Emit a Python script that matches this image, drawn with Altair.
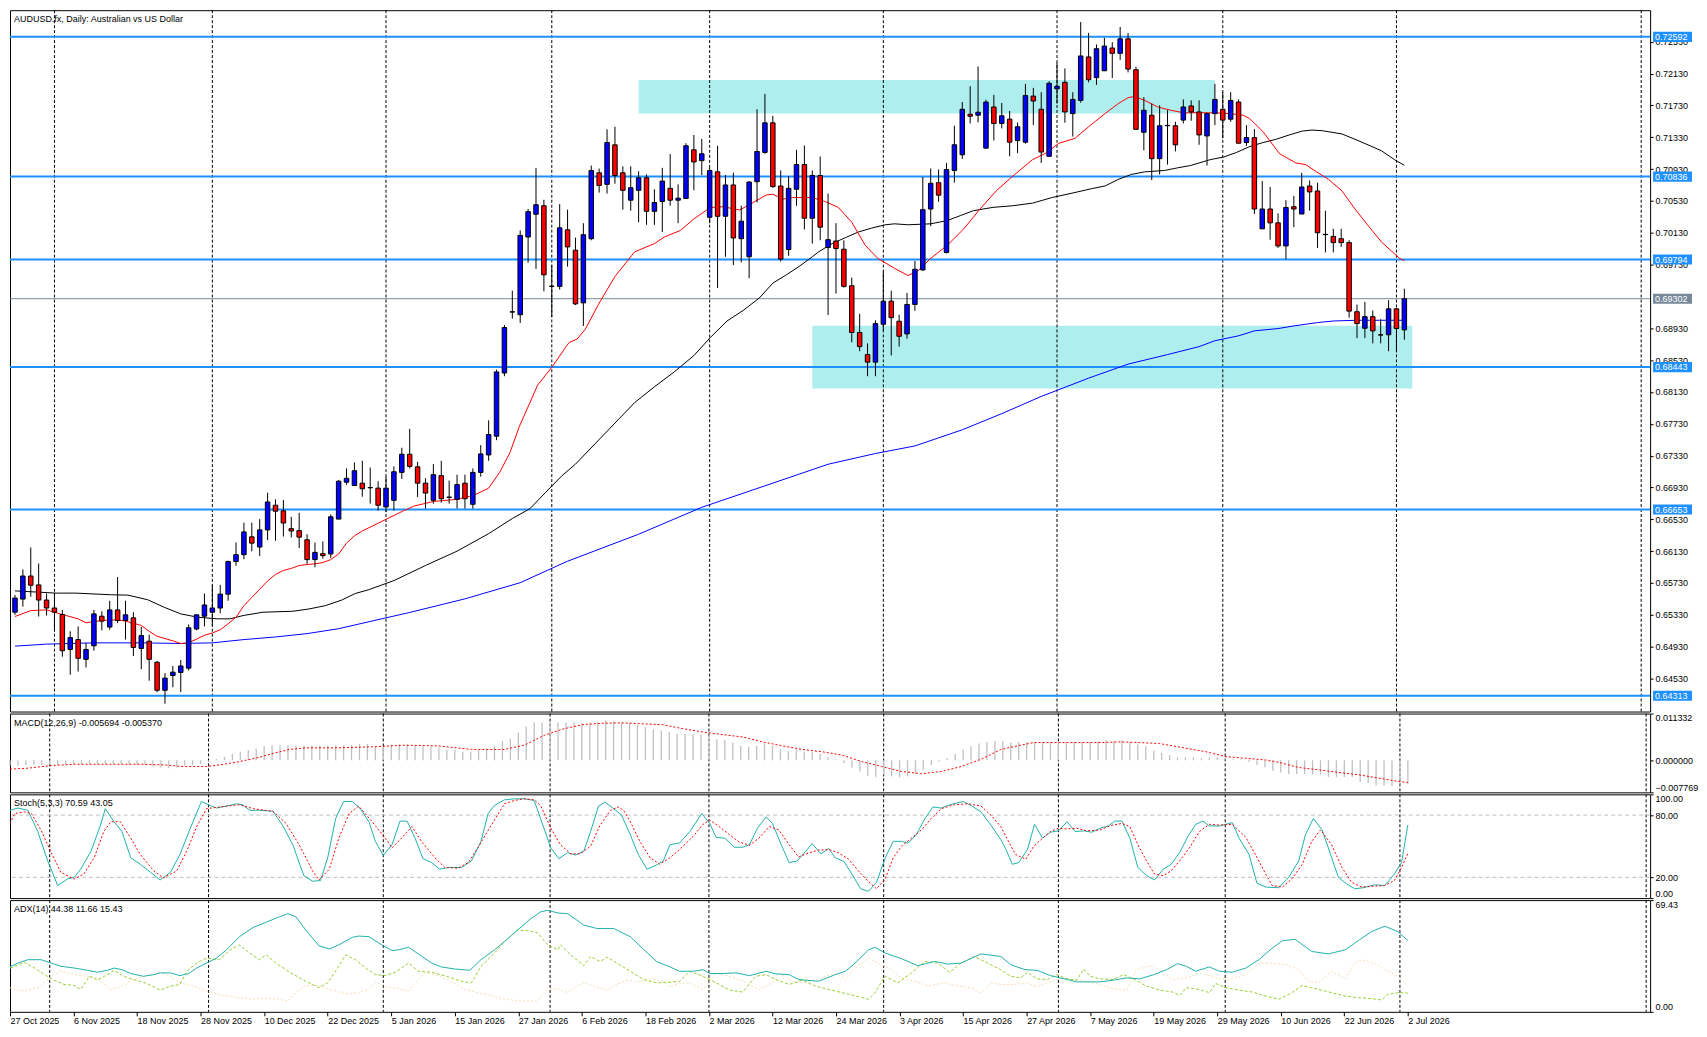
import json
import altair as alt
import pandas as pd

FONT = "Liberation Sans"
W = 1644
H_MAIN, H_MACD, H_STOCH, H_ADX = 703, 79, 104, 112
X_DOMAIN = [0, 206.5]
PRICE_DOMAIN = [0.64115, 0.72927]
MACD_DOMAIN = [-0.007769, 0.011332]
STOCH_DOMAIN = [0, 100]
ADX_DOMAIN = [0, 69.43]

TITLE_MAIN = "AUDUSD.fx, Daily:  Australian vs US Dollar"
TITLE_MACD = "MACD(12,26,9) -0.005694 -0.005370"
TITLE_STOCH = "Stoch(5,3,3) 70.59 43.05"
TITLE_ADX = "ADX(14) 44.38 11.66 15.43"

DATE_LABELS = ["27 Oct 2025", "6 Nov 2025", "18 Nov 2025", "28 Nov 2025", "10 Dec 2025",
               "22 Dec 2025", "5 Jan 2026", "15 Jan 2026", "27 Jan 2026", "6 Feb 2026",
               "18 Feb 2026", "2 Mar 2026", "12 Mar 2026", "24 Mar 2026", "3 Apr 2026",
               "15 Apr 2026", "27 Apr 2026", "7 May 2026", "19 May 2026", "29 May 2026",
               "10 Jun 2026", "22 Jun 2026", "2 Jul 2026"]
DATE_TICK_BARS = [0, 8, 16, 24, 32, 40, 48, 56, 64, 72, 80, 88, 96, 104, 112, 120,
                  128, 136, 144, 152, 160, 168, 176]
MONTH_BARS = [5, 25, 47, 68, 88, 110, 132, 153, 175, 206]

PRICE_TICKS = [0.64530, 0.64930, 0.65330, 0.65730, 0.66130, 0.66530, 0.66930, 0.67330,
               0.67730, 0.68130, 0.68530, 0.68930, 0.69730, 0.70130, 0.70530, 0.70930,
               0.71330, 0.71730, 0.72130, 0.72530]
LEVELS = [0.72592, 0.70836, 0.69794, 0.68443, 0.66653, 0.64313]
LAST_PRICE = 0.69302
ZONE_X1 = [79, 101]
ZONE_X2 = [152, 177]
ZONE_TOP = [0.72050, 0.68961]
ZONE_BOT = [0.71628, 0.68175]

OPEN = [0.65363, 0.65528, 0.65818, 0.65706, 0.65516, 0.65416, 0.65334, 0.64895, 0.65019, 0.64771,
        0.64941, 0.65313, 0.65177, 0.65392, 0.65259, 0.65292, 0.64908, 0.64999, 0.64734, 0.64382,
        0.64569, 0.64606, 0.64660, 0.65152, 0.65313, 0.65363, 0.65416, 0.65590, 0.66000, 0.66086,
        0.66310, 0.66182, 0.66397, 0.66707, 0.66637, 0.66413, 0.66388, 0.66273, 0.66024, 0.66099,
        0.66095, 0.66533, 0.66996, 0.66955, 0.66984, 0.66926, 0.66922, 0.66686, 0.66769, 0.67120,
        0.67348, 0.67190, 0.66984, 0.66769, 0.67079, 0.66810, 0.66781, 0.66984, 0.66719, 0.67120,
        0.67339, 0.67575, 0.68369, 0.69134, 0.69101, 0.70077, 0.70363, 0.70470, 0.69457, 0.69457,
        0.70168, 0.69912, 0.69250, 0.70056, 0.70884, 0.70739, 0.71235, 0.70884, 0.70540, 0.70664,
        0.70822, 0.70400, 0.70524, 0.70689, 0.70540, 0.70561, 0.71173, 0.71037, 0.70325, 0.70896,
        0.70338, 0.70731, 0.70056, 0.69829, 0.70772, 0.71140, 0.71512, 0.70718, 0.69920, 0.70677,
        0.70987, 0.70313, 0.70850, 0.69945, 0.70027, 0.69924, 0.69465, 0.68878, 0.68600, 0.68505,
        0.68981, 0.69271, 0.69019, 0.68860, 0.69230, 0.69664, 0.70429, 0.70760, 0.69883, 0.70913,
        0.71111, 0.71620, 0.71608, 0.71194, 0.71711, 0.71504, 0.71558, 0.71289, 0.71269, 0.71848,
        0.71682, 0.71091, 0.71939, 0.72021, 0.71628, 0.71794, 0.72340, 0.72079, 0.72166, 0.72452,
        0.72385, 0.72567, 0.72179, 0.71393, 0.71608, 0.71062, 0.71475, 0.71475, 0.71546, 0.71724,
        0.71649, 0.71347, 0.71628, 0.71682, 0.71558, 0.71773, 0.71264, 0.71326, 0.70180, 0.70429,
        0.70255, 0.69965, 0.70458, 0.70366, 0.70718, 0.70656, 0.70111, 0.70085, 0.70056, 0.70007,
        0.69138, 0.68931, 0.69076, 0.68849, 0.68849, 0.69175, 0.68911]
HIGH = [0.65580, 0.65900, 0.66177, 0.65975, 0.65598, 0.65603, 0.65392, 0.65123, 0.65185, 0.64978,
        0.65392, 0.65375, 0.65507, 0.65805, 0.65507, 0.65363, 0.65177, 0.65081, 0.64750, 0.64597,
        0.64688, 0.64763, 0.65210, 0.65330, 0.65598, 0.65706, 0.65706, 0.66012, 0.66239, 0.66488,
        0.66488, 0.66533, 0.66864, 0.66781, 0.66773, 0.66562, 0.66612, 0.66343, 0.66239, 0.66252,
        0.66591, 0.67025, 0.67170, 0.67245, 0.67265, 0.67182, 0.67008, 0.67066, 0.67195, 0.67430,
        0.67666, 0.67252, 0.67046, 0.67224, 0.67265, 0.67017, 0.67091, 0.67091, 0.67170, 0.67463,
        0.67774, 0.68411, 0.68973, 0.69403, 0.70160, 0.70429, 0.70946, 0.70545, 0.69726, 0.70491,
        0.70421, 0.70069, 0.70251, 0.70975, 0.70937, 0.71430, 0.71463, 0.70966, 0.70966, 0.70904,
        0.70863, 0.70677, 0.70946, 0.71119, 0.70739, 0.71256, 0.71359, 0.71310, 0.70950, 0.71223,
        0.70855, 0.70884, 0.70470, 0.70780, 0.71682, 0.71876, 0.71599, 0.70913, 0.70842, 0.71173,
        0.71227, 0.70913, 0.71090, 0.70623, 0.70251, 0.70036, 0.69568, 0.69113, 0.68741, 0.69031,
        0.69643, 0.69403, 0.69100, 0.69374, 0.69776, 0.70830, 0.70938, 0.70925, 0.71008, 0.71475,
        0.71773, 0.71972, 0.72220, 0.71802, 0.71864, 0.71761, 0.71662, 0.71517, 0.72001, 0.71951,
        0.71897, 0.72034, 0.72270, 0.72195, 0.71897, 0.72778, 0.72642, 0.72497, 0.72580, 0.72526,
        0.72716, 0.72642, 0.72216, 0.71835, 0.71753, 0.71732, 0.71670, 0.71525, 0.71806, 0.71794,
        0.71794, 0.71640, 0.72001, 0.71897, 0.71897, 0.71806, 0.71483, 0.71434, 0.70780, 0.70706,
        0.70375, 0.70540, 0.70594, 0.70883, 0.70788, 0.70759, 0.70408, 0.70180, 0.70180, 0.70036,
        0.69229, 0.69262, 0.69154, 0.69043, 0.69283, 0.69180, 0.69428]
LOW = [0.65330, 0.65433, 0.65557, 0.65309, 0.65321, 0.65143, 0.64804, 0.64577, 0.64618, 0.64668,
       0.64879, 0.65135, 0.65143, 0.65226, 0.65019, 0.64813, 0.64647, 0.64502, 0.64358, 0.64213,
       0.64420, 0.64358, 0.64631, 0.65135, 0.65185, 0.65185, 0.65350, 0.65507, 0.65946, 0.66029,
       0.66128, 0.66070, 0.66268, 0.66260, 0.66314, 0.66302, 0.66169, 0.65971, 0.65929, 0.66037,
       0.66045, 0.66533, 0.66963, 0.66947, 0.66814, 0.66727, 0.66640, 0.66620, 0.66640, 0.67037,
       0.67170, 0.66810, 0.66665, 0.66727, 0.66740, 0.66727, 0.66665, 0.66665, 0.66665, 0.67066,
       0.67265, 0.67525, 0.68328, 0.69052, 0.68998, 0.69755, 0.69676, 0.69395, 0.69072, 0.69416,
       0.69705, 0.69221, 0.68960, 0.70036, 0.70635, 0.70623, 0.70747, 0.70420, 0.70408, 0.70263,
       0.70230, 0.70230, 0.70139, 0.70470, 0.70251, 0.70553, 0.70664, 0.70855, 0.70250, 0.69436,
       0.69829, 0.69726, 0.69759, 0.69560, 0.70511, 0.71124, 0.70697, 0.69770, 0.69841, 0.70470,
       0.70172, 0.69994, 0.70036, 0.69097, 0.69366, 0.69440, 0.68754, 0.68642, 0.68328, 0.68328,
       0.68900, 0.68588, 0.68700, 0.68800, 0.69150, 0.69652, 0.70214, 0.70520, 0.69871, 0.70760,
       0.71058, 0.71504, 0.71517, 0.71194, 0.71289, 0.71442, 0.71091, 0.71132, 0.71250, 0.71484,
       0.71008, 0.71083, 0.71753, 0.71513, 0.71339, 0.71765, 0.72021, 0.71988, 0.72166, 0.72075,
       0.72303, 0.72146, 0.71430, 0.71165, 0.70793, 0.70863, 0.70987, 0.71153, 0.71504, 0.71538,
       0.71236, 0.70975, 0.71484, 0.71318, 0.71525, 0.71256, 0.71223, 0.70366, 0.70180, 0.70044,
       0.69940, 0.69800, 0.70201, 0.70366, 0.70408, 0.69940, 0.69883, 0.69883, 0.69953, 0.69064,
       0.68807, 0.68807, 0.68741, 0.68741, 0.68642, 0.68642, 0.68787]
CLOSE = [0.65541, 0.65818, 0.65702, 0.65516, 0.65416, 0.65363, 0.64879, 0.65044, 0.64784, 0.64895,
         0.65342, 0.65251, 0.65392, 0.65259, 0.65330, 0.64920, 0.65069, 0.64771, 0.64382, 0.64535,
         0.64610, 0.64688, 0.65168, 0.65330, 0.65454, 0.65416, 0.65590, 0.66000, 0.66086, 0.66372,
         0.66231, 0.66397, 0.66748, 0.66632, 0.66484, 0.66384, 0.66306, 0.66024, 0.66115, 0.66074,
         0.66562, 0.67009, 0.67046, 0.67141, 0.66914, 0.66930, 0.66707, 0.66922, 0.67128, 0.67348,
         0.67195, 0.66984, 0.66860, 0.67091, 0.66789, 0.66805, 0.66967, 0.66789, 0.67120, 0.67352,
         0.67596, 0.68382, 0.68940, 0.69138, 0.70098, 0.70396, 0.70483, 0.69602, 0.69460, 0.70193,
         0.69953, 0.69237, 0.70106, 0.70913, 0.70726, 0.71264, 0.70850, 0.70664, 0.70697, 0.70822,
         0.70400, 0.70511, 0.70780, 0.70540, 0.70565, 0.71223, 0.71020, 0.71123, 0.70913, 0.70338,
         0.70731, 0.70065, 0.70276, 0.70768, 0.71152, 0.71512, 0.70710, 0.69800, 0.70689, 0.70987,
         0.70313, 0.70850, 0.70201, 0.70044, 0.69932, 0.69457, 0.68878, 0.68700, 0.68505, 0.68989,
         0.69271, 0.69064, 0.68830, 0.69230, 0.69672, 0.70421, 0.70752, 0.70603, 0.70925, 0.71236,
         0.71682, 0.71595, 0.71645, 0.71773, 0.71504, 0.71600, 0.71269, 0.71463, 0.71856, 0.71786,
         0.71145, 0.72009, 0.71972, 0.71649, 0.71806, 0.72352, 0.72054, 0.72443, 0.72476, 0.72385,
         0.72567, 0.72187, 0.71430, 0.71670, 0.71062, 0.71475, 0.71480, 0.71236, 0.71711, 0.71649,
         0.71360, 0.71628, 0.71806, 0.71546, 0.71793, 0.71256, 0.71326, 0.70429, 0.70429, 0.70255,
         0.69965, 0.70449, 0.70429, 0.70706, 0.70644, 0.70131, 0.70107, 0.70007, 0.70007, 0.69146,
         0.68989, 0.69076, 0.68898, 0.68845, 0.69175, 0.68927, 0.69302]

MA_RED = [(0, 0.65309), (2, 0.65383), (4, 0.65392), (6, 0.65334), (8, 0.65280), (9, 0.65230),
          (11, 0.65259), (13, 0.65268), (14, 0.65251), (16, 0.65197), (17, 0.65123), (18, 0.65061),
          (20, 0.65003), (21, 0.64970), (22, 0.64978), (24, 0.65073), (25, 0.65102), (26, 0.65143),
          (27, 0.65218), (28, 0.65300), (29, 0.65445), (30, 0.65549), (31, 0.65652), (32, 0.65756),
          (33, 0.65838), (34, 0.65888), (35, 0.65913), (36, 0.65950), (37, 0.65962), (38, 0.65971),
          (39, 0.65987), (40, 0.66024), (41, 0.66095), (42, 0.66231), (43, 0.66322), (44, 0.66384),
          (49.1, 0.66632), (50.6, 0.66698), (53.1, 0.66756), (56, 0.66781), (58.1, 0.66831),
          (60, 0.66922), (61.4, 0.67120), (62.7, 0.67368), (63.9, 0.67699), (65.2, 0.67989),
          (66.2, 0.68216), (68.1, 0.68452), (69.75, 0.68692), (70.2, 0.68753), (71.2, 0.68795),
          (72.25, 0.68919), (73.9, 0.69229), (76, 0.69581), (78.5, 0.69891), (81, 0.69994),
          (82.25, 0.70077), (84.3, 0.70160), (86, 0.70305), (88.1, 0.70449), (89.75, 0.70458),
          (91.8, 0.70416), (93.5, 0.70511), (95.2, 0.70606), (96, 0.70615), (97.25, 0.70553),
          (98.5, 0.70573), (101, 0.70573), (102.7, 0.70520), (104.3, 0.70449), (106, 0.70263),
          (107.7, 0.69974), (109.3, 0.69808), (111.4, 0.69685), (113.1, 0.69594), (114.3, 0.69643),
          (116, 0.69809), (118.1, 0.69974), (120.2, 0.70181), (122.25, 0.70429), (124.3, 0.70657),
          (126.4, 0.70843), (128.9, 0.71049), (130.6, 0.71132), (132.25, 0.71256), (134.3, 0.71318),
          (136, 0.71463), (138.1, 0.71629), (139.75, 0.71753), (141, 0.71827), (141.8, 0.71844),
          (143.1, 0.71794), (144.75, 0.71711), (146.4, 0.71670), (148.1, 0.71637), (149.75, 0.71640),
          (152.25, 0.71636), (153.9, 0.71628), (155.6, 0.71607), (156.4, 0.71566), (158.1, 0.71400),
          (160.2, 0.71123), (162.25, 0.71008), (163.5, 0.70987), (164.75, 0.70904), (166.4, 0.70801),
          (168.1, 0.70656), (169.75, 0.70429), (171.4, 0.70222), (173.1, 0.70015), (174.25, 0.69911),
          (175.4, 0.69808), (176, 0.69780)]
MA_BLACK = [(0, 0.65631), (5.2, 0.65603), (7.7, 0.65603), (12.25, 0.65582), (14.3, 0.65578),
            (16.8, 0.65520), (18.9, 0.65425), (21, 0.65342), (23.1, 0.65301), (25.6, 0.65280),
            (27.25, 0.65280), (28.9, 0.65321), (31.4, 0.65363), (35.2, 0.65375), (37.25, 0.65404),
            (39.3, 0.65445), (41.4, 0.65516), (43.1, 0.65598), (44.75, 0.65644), (48, 0.65760),
            (52, 0.65950), (56, 0.66130), (60, 0.66350), (63, 0.66540), (65.25, 0.66665),
            (67.25, 0.66872), (69.3, 0.67079), (71, 0.67223), (78.5, 0.67997), (81, 0.68195),
            (83.5, 0.68381), (86, 0.68588), (88.1, 0.68816), (90.2, 0.69022), (92.25, 0.69155),
            (94.3, 0.69312), (96, 0.69498), (97.7, 0.69601), (99.3, 0.69705), (101, 0.69829),
            (101.8, 0.69891), (103.5, 0.69994), (105.2, 0.70069), (106.8, 0.70139), (108.5, 0.70189),
            (110.2, 0.70230), (111.4, 0.70243), (113.1, 0.70231), (116, 0.70243), (118.1, 0.70284),
            (119.75, 0.70346), (121.4, 0.70408), (123.9, 0.70450), (126.4, 0.70470), (128.9, 0.70503),
            (131.4, 0.70574), (133.9, 0.70628), (136.4, 0.70685), (138.1, 0.70719), (139.75, 0.70801),
            (141.4, 0.70863), (143.1, 0.70896), (145.6, 0.70913), (147.25, 0.70946), (148.9, 0.70975),
            (151.4, 0.71049), (153.1, 0.71082), (154.75, 0.71140), (156.4, 0.71214), (158.1, 0.71264),
            (159.75, 0.71305), (161.4, 0.71359), (163.1, 0.71409), (164.3, 0.71421), (165.6, 0.71413),
            (168.1, 0.71372), (169.75, 0.71305), (171.4, 0.71235), (173.1, 0.71161), (174.75, 0.71049),
            (176, 0.70979)]
MA_BLUE = [(0, 0.64937), (4, 0.64962), (10, 0.64978), (16, 0.64978), (21, 0.64970), (25, 0.64978),
           (29, 0.65019), (33, 0.65052), (37, 0.65094), (41, 0.65156), (45, 0.65247), (50, 0.65360),
           (57, 0.65531), (64, 0.65734), (70, 0.66004), (79, 0.66343), (87, 0.66681), (95, 0.66951),
           (103, 0.67222), (109, 0.67357), (114, 0.67452), (120, 0.67655), (125, 0.67858),
           (130, 0.68074), (136, 0.68304), (141, 0.68480), (146, 0.68600), (150, 0.68700),
           (152, 0.68774), (155, 0.68836), (157, 0.68898), (160, 0.68927), (162, 0.68960),
           (165, 0.69002), (167, 0.69022), (170, 0.69031), (176, 0.69031)]

MACD_HIST = [-0.00120, -0.00127, -0.00111, -0.00111, -0.00105, -0.00105, -0.00111, -0.00105, -0.00100, -0.00096,
             -0.00096, -0.00096, -0.00088, -0.00096, -0.00096, -0.00111, -0.00111, -0.00127, -0.00151, -0.00175,
             -0.00191, -0.00175, -0.00127, -0.00111, -0.00088, -0.00030, 0.00030, 0.00088, 0.00151, 0.00207,
             0.00247, 0.00287, 0.00342, 0.00366, 0.00366, 0.00366, 0.00350, 0.00350, 0.00350, 0.00350,
             0.00350, 0.00360, 0.00360, 0.00370, 0.00398, 0.00398, 0.00342, 0.00342, 0.00382, 0.00390,
             0.00382, 0.00350, 0.00342, 0.00334, 0.00302, 0.00263, 0.00247, 0.00207, 0.00207, 0.00247,
             0.00287, 0.00342, 0.00462, 0.00525, 0.00669, 0.00820, 0.00915, 0.00915, 0.00915, 0.00915,
             0.00915, 0.00915, 0.00900, 0.00900, 0.00920, 0.00963, 0.00940, 0.00915, 0.00907, 0.00860,
             0.00804, 0.00748, 0.00724, 0.00685, 0.00645, 0.00645, 0.00629, 0.00629, 0.00605, 0.00509,
             0.00486, 0.00430, 0.00350, 0.00326, 0.00350, 0.00406, 0.00350, 0.00263, 0.00223, 0.00263,
             0.00207, 0.00207, 0.00151, 0.00072, 0.00024, -0.00072, -0.00175, -0.00271, -0.00374, -0.00406,
             -0.00350, -0.00390, -0.00414, -0.00390, -0.00326, -0.00231, -0.00111, -0.00032, 0.00048, 0.00151,
             0.00263, 0.00342, 0.00406, 0.00446, 0.00470, 0.00462, 0.00430, 0.00446, 0.00446, 0.00446,
             0.00446, 0.00446, 0.00462, 0.00446, 0.00446, 0.00446, 0.00446, 0.00462, 0.00486, 0.00470,
             0.00486, 0.00446, 0.00382, 0.00342, 0.00231, 0.00183, 0.00127, 0.00072, 0.00072, 0.00072,
             0.00048, 0.00072, 0.00072, 0.00024, 0.00024, 0.00024, -0.00040, -0.00111, -0.00175, -0.00255,
             -0.00295, -0.00334, -0.00334, -0.00334, -0.00350, -0.00350, -0.00406, -0.00406, -0.00406, -0.00406,
             -0.00525, -0.00549, -0.00613, -0.00613, -0.00629, -0.00589, -0.00569]
MACD_SIGNAL = [(0, -0.00215), (2.25, -0.00191), (5.2, -0.00127), (8.1, -0.00096), (12.25, -0.00096),
               (16.4, -0.00096), (19.3, -0.00111), (21.8, -0.00151), (24.75, -0.00151), (26.4, -0.00111),
               (28.9, -0.00032), (31.4, 0.00072), (33.1, 0.00167), (35.2, 0.00263), (37.25, 0.00302),
               (41.4, 0.00302), (45.6, 0.00326), (49.75, 0.00366), (53.9, 0.00350), (58.1, 0.00263),
               (62.25, 0.00263), (64.75, 0.00366), (67.25, 0.00605), (69.75, 0.00764), (72.25, 0.00868),
               (74.75, 0.00900), (77.25, 0.00907), (79.75, 0.00884), (82.25, 0.00860), (84.75, 0.00764),
               (87.25, 0.00685), (89.75, 0.00621), (92.25, 0.00565), (94.75, 0.00446), (97.25, 0.00350),
               (99.75, 0.00263), (102.25, 0.00207), (104.75, 0.00127), (107.25, -0.00032),
               (109.75, -0.00151), (112.25, -0.00271), (114.75, -0.00326), (117.25, -0.00271),
               (119.75, -0.00151), (122.25, 0.00024), (124.75, 0.00263), (127.25, 0.00366),
               (128.9, 0.00430), (133.1, 0.00430), (137.25, 0.00430), (139.75, 0.00446), (142.25, 0.00430),
               (144.75, 0.00406), (146.4, 0.00350), (148.9, 0.00263), (150.6, 0.00207), (153.1, 0.00088),
               (155.6, 0.00048), (158.1, 0.00008), (159.75, -0.00048), (162.25, -0.00175),
               (164.75, -0.00231), (167.25, -0.00295), (169.75, -0.00350), (172.25, -0.00430),
               (174.75, -0.00509), (176, -0.00537)]

STOCH_MAIN = [(0, 84.6), (1, 86.8), (2.25, 84.6), (3.5, 64.1), (4.75, 35.8), (6, 12.2), (7.25, 18.5),
              (8.1, 20.0), (8.9, 27.9), (10.2, 45.2), (11.4, 70.4), (12, 86.2), (13.1, 73.6), (14.1, 64.1),
              (15.2, 38.9), (16.4, 32.6), (17.7, 24.8), (18.9, 17.5), (20.2, 24.8), (21.4, 42.1),
              (22.7, 67.3), (24.1, 93.1), (25.2, 89.3), (26, 86.8), (27.25, 88.7), (28.5, 90.9),
              (29.3, 90.0), (30.2, 84.6), (31.4, 84.6), (33.1, 83.7), (34.3, 70.4), (35.6, 51.5),
              (37, 21.6), (38.1, 16.3), (39.1, 16.9), (40, 38.9), (41, 76.7), (42, 93.1), (43.1, 93.1),
              (44.1, 86.2), (45.2, 73.6), (46, 54.7), (47, 41.1), (48.1, 51.5), (49.1, 74.2), (50, 74.2),
              (51, 57.8), (52, 38.0), (53.1, 34.2), (54.1, 27.9), (55.2, 29.5), (56.8, 29.5), (58.1, 35.8),
              (59.3, 54.7), (60.2, 81.5), (61, 89.3), (62.25, 94.7), (63.5, 95.7), (64.75, 95.7),
              (66, 94.1), (66.8, 76.7), (68.1, 48.4), (69.1, 38.0), (70.2, 43.7), (71.2, 41.5),
              (72.25, 45.2), (73.1, 64.1), (74.1, 88.7), (74.9, 92.5), (76, 86.2), (77, 79.9), (78.1, 61.0),
              (79.1, 42.1), (80.2, 27.9), (81.2, 31.1), (82.25, 35.8), (83.1, 51.5), (84.3, 53.1),
              (85.6, 64.1), (87.1, 81.5), (88.1, 72.0), (88.9, 58.5), (90, 57.8), (91.2, 49.0),
              (92.25, 49.0), (93.1, 51.5), (94.1, 67.3), (95.2, 78.3), (96, 72.0), (97.1, 51.5),
              (98.1, 34.2), (99.1, 35.8), (100.2, 45.2), (101, 52.5), (102.1, 42.7), (103.1, 47.8),
              (103.9, 38.9), (105, 35.2), (106, 23.2), (107.1, 9.0), (108.1, 6.5), (109.1, 15.3),
              (110.2, 38.9), (111.2, 54.7), (112.25, 54.7), (113.1, 53.1), (114.1, 61.0), (115.2, 76.7),
              (116.2, 87.8), (117.25, 86.8), (118.3, 90.0), (120, 93.1), (121, 89.3), (122.25, 83.1),
              (123.5, 70.4), (124.75, 56.3), (125.4, 46.8), (126.2, 32.6), (127, 34.2), (128.1, 46.8),
              (129, 71.1), (130, 57.8), (131, 63.5), (132, 64.8), (133.1, 73.6), (134.1, 64.1),
              (135.2, 64.8), (136.2, 63.5), (137.25, 67.3), (138.3, 69.5), (139.1, 74.2), (140, 74.2),
              (141, 57.8), (142, 29.5), (143.1, 21.6), (144.1, 17.5), (145.2, 27.9), (146.2, 32.6),
              (147.25, 43.7), (148.3, 59.4), (149.3, 71.1), (150.2, 74.2), (151, 69.5), (152.25, 69.5),
              (153.9, 72.7), (154.75, 57.8), (156, 42.1), (157, 14.4), (158.1, 10.6), (159.75, 10.0),
              (161, 20.0), (162.25, 35.8), (163.1, 61.0), (164.1, 76.7), (165.2, 65.7), (166.2, 43.7),
              (167.25, 20.0), (168.3, 13.7), (169.3, 9.0), (170.4, 10.0), (171.8, 12.8), (173.1, 12.2),
              (174.3, 23.2), (175.2, 34.2), (176, 70.6)]
STOCH_SIGNAL = [(0, 72.0), (0.6, 81.5), (1.8, 83.1), (2.7, 81.5), (3.9, 65.7), (5.2, 43.7), (6.4, 24.8),
                (8.1, 18.5), (9.3, 23.2), (10.6, 38.9), (11.8, 64.1), (12.7, 73.6), (13.9, 73.6),
                (15.2, 57.8), (16.4, 42.1), (18.1, 26.3), (19.3, 19.4), (21, 26.3), (22.25, 45.2),
                (23.5, 68.9), (24.75, 86.2), (26.4, 87.8), (28.9, 90.0), (30.6, 86.2), (33.1, 83.7),
                (34.75, 72.0), (36.4, 51.5), (38.1, 26.3), (38.9, 17.5), (40.2, 27.9), (41.4, 57.8),
                (42.7, 81.5), (43.9, 88.7), (45.6, 73.6), (47.25, 57.8), (48.1, 48.4), (49.3, 57.8),
                (50.6, 68.9), (51.8, 54.7), (53.5, 38.9), (54.75, 29.5), (56.4, 28.9), (57.7, 34.2),
                (58.9, 48.4), (60.6, 70.4), (62.25, 90.9), (63.5, 94.1), (64.75, 95.7), (66, 94.7),
                (66.8, 89.3), (68.1, 67.3), (69.3, 51.5), (70.6, 42.7), (71.8, 42.7), (73.1, 50.0),
                (74.3, 70.4), (75.6, 84.6), (76.6, 87.8), (77.25, 84.6), (78.1, 73.6), (79.3, 54.7),
                (80.6, 38.9), (81.8, 32.6), (83.1, 38.9), (84.3, 46.8), (86, 59.4), (87.25, 71.1),
                (88.1, 75.2), (89.3, 68.9), (90.6, 61.0), (91.8, 54.1), (93.1, 50.9), (94.3, 57.8),
                (95.6, 68.9), (96.8, 65.7), (98.1, 51.5), (99.3, 39.6), (100.6, 43.7), (101.8, 46.2),
                (103.1, 46.8), (104.3, 43.7), (105.6, 37.4), (106.8, 26.3), (108.1, 15.9), (109.1, 9.0),
                (110.2, 18.5), (111.2, 38.9), (112.25, 50.0), (113.5, 57.8), (114.75, 65.7), (116, 76.7),
                (117.25, 86.2), (118.9, 90.0), (120.6, 90.9), (122.25, 88.7), (123.5, 79.9), (124.75, 68.9),
                (125.6, 56.3), (126.6, 42.1), (127.9, 37.4), (128.9, 50.0), (130, 57.8), (131, 64.1),
                (132, 67.3), (133.1, 66.7), (134.3, 67.3), (135.6, 64.8), (137.25, 65.7), (138.5, 69.8),
                (140, 72.0), (141, 68.9), (142, 51.5), (143.1, 35.8), (144.1, 23.2), (145.2, 21.6),
                (146.2, 26.3), (147.25, 35.8), (148.5, 48.4), (149.75, 64.1), (151, 71.1), (152.25, 70.4),
                (153.9, 71.1), (155.6, 58.5), (156.8, 42.1), (158.1, 23.2), (158.9, 12.2), (160.2, 10.6),
                (161.4, 18.5), (162.7, 32.6), (163.9, 54.7), (165, 65.7), (166.4, 51.5), (167.7, 29.5),
                (168.9, 15.3), (170.2, 10.6), (171.8, 11.5), (173.1, 12.2), (174.3, 16.9), (175.2, 29.5),
                (176, 43.05)]
STOCH_LEVELS = [20, 80]

ADX_MAIN = [(0, 27.9), (1, 30.3), (2.25, 32.4), (3.9, 32.4), (5.2, 30.3), (6.4, 28.3), (8.1, 27.2),
            (9.75, 25.8), (11, 24.6), (12.25, 25.8), (13.1, 27.2), (14.1, 26.2), (15.2, 23.8),
            (16.8, 22.1), (18.1, 23.1), (18.9, 24.2), (20.2, 24.2), (21.4, 22.5), (22.5, 23.8),
            (23.5, 27.2), (24.75, 30.3), (26, 33.4), (27.25, 38.5), (28.9, 46.7), (30.6, 52.4),
            (32.25, 55.7), (33.9, 59.0), (35, 61.0), (36, 59.0), (37.25, 50.8), (38.9, 41.0),
            (40.2, 39.1), (41.4, 41.6), (43.1, 46.3), (43.9, 47.1), (45.2, 46.7), (46.8, 41.6),
            (48.1, 38.1), (48.9, 38.5), (50.2, 40.1), (51.4, 36.0), (53.1, 30.3), (54.3, 27.9),
            (56, 26.6), (57.9, 25.8), (59.3, 32.4), (61, 38.5), (62.25, 43.6), (63.9, 50.8),
            (65.6, 58.0), (66.8, 62.1), (67.7, 63.1), (69, 61.4), (70.2, 61.0), (71.4, 56.9),
            (72.25, 53.9), (73.9, 51.8), (76, 51.8), (78.1, 46.7), (79.75, 38.9), (81.4, 31.3),
            (83.1, 27.9), (84.3, 25.2), (86, 25.2), (87.25, 26.2), (88.1, 23.8), (89.75, 23.8),
            (91.4, 24.2), (93.1, 22.5), (95.2, 25.2), (96.4, 23.6), (98.1, 23.1), (99.3, 20.1),
            (101.8, 19.0), (103.9, 23.1), (105.2, 25.2), (106.4, 30.3), (108.1, 38.5), (108.9, 40.1),
            (110.2, 36.5), (112.25, 33.0), (114.3, 28.7), (116.4, 31.3), (118.1, 29.7), (119.75, 30.3),
            (122.25, 36.0), (124.75, 34.4), (126, 29.3), (127.8, 26.2), (129.3, 25.8), (131, 22.5),
            (132.25, 21.1), (134.3, 18.6), (137.25, 18.6), (138.9, 19.7), (140.6, 21.1), (142.25, 20.5),
            (144, 23.1), (145.6, 26.2), (147, 29.9), (148.1, 28.3), (149.3, 25.2), (151, 27.9),
            (152.25, 25.2), (153.9, 24.6), (155.6, 27.2), (157.25, 32.4), (158.9, 39.5), (160.2, 44.2),
            (161.8, 45.1), (163.9, 37.5), (166, 36.0), (168.1, 38.5), (169.75, 44.2), (171.4, 49.8),
            (173.1, 53.2), (174.75, 49.8), (176, 44.38)]
ADX_PLUS_DI = [(0, 27.2), (1.8, 30.7), (3.1, 27.2), (5.2, 20.5), (6.8, 17.0), (8.1, 16.4), (8.9, 13.9),
               (10, 22.1), (11, 19.7), (12.25, 23.1), (13.1, 25.8), (14.3, 22.1), (15.6, 20.1),
               (17.25, 17.6), (18.9, 13.5), (20.2, 16.0), (21.4, 17.0), (22.25, 25.2), (23.5, 30.3),
               (24.75, 33.4), (26.4, 32.4), (27.7, 38.5), (28.9, 41.6), (30.2, 36.5), (31.4, 32.4),
               (32.25, 35.4), (33.5, 30.3), (35.2, 24.6), (37.25, 19.0), (38.9, 15.0), (40, 18.0),
               (41.4, 28.3), (42.25, 35.4), (43.5, 32.4), (44.75, 27.2), (46, 23.1), (47.25, 22.5),
               (48.5, 24.6), (50.2, 30.3), (51.4, 25.2), (53.1, 24.6), (55.2, 21.7), (56.8, 19.0),
               (58.1, 18.0), (59.3, 28.3), (61, 36.5), (62.25, 43.6), (63.9, 50.8), (65.2, 50.4),
               (66.4, 49.2), (67.7, 41.6), (69, 38.5), (69.3, 41.6), (70.6, 35.4), (72.25, 28.7),
               (73.1, 34.4), (74.3, 31.3), (75.2, 34.0), (76.4, 30.3), (78.1, 25.2), (79.75, 20.1),
               (81.4, 18.0), (83.1, 18.4), (84.3, 19.0), (85.6, 25.2), (87.25, 22.1), (88.9, 18.0),
               (90.6, 13.5), (92.25, 12.3), (93.9, 22.1), (95.2, 23.1), (96.4, 20.1), (98.1, 17.0),
               (99.75, 19.7), (101.4, 16.0), (103.1, 13.9), (105.6, 10.9), (108.1, 7.8), (108.9, 11.9),
               (110.2, 22.1), (111.8, 18.0), (113.5, 24.2), (115.2, 31.3), (116.8, 30.3), (118.3, 24.6),
               (119.75, 30.3), (121.4, 34.4), (123.1, 30.3), (124.75, 26.2), (126, 22.1), (127.25, 21.1),
               (128.1, 24.6), (129.3, 20.5), (130.6, 20.1), (131.8, 23.1), (133.1, 20.5), (134.3, 19.7),
               (135.2, 26.6), (136, 22.1), (137.25, 20.5), (138.9, 20.1), (140.2, 23.1), (141.4, 20.5),
               (143.1, 16.0), (144.75, 13.5), (146.4, 12.3), (147.25, 10.2), (148.1, 15.0), (149.75, 13.9),
               (151, 11.9), (151.8, 17.6), (153.1, 15.0), (154.75, 13.5), (156.4, 12.3), (158.1, 9.8),
               (159.75, 7.8), (161.4, 11.9), (162.7, 16.4), (163.9, 15.0), (165.6, 12.9), (168.1, 9.8),
               (169.75, 8.8), (171.4, 8.2), (172.7, 7.4), (173.5, 10.9), (174.75, 11.9), (176, 11.66)]
ADX_MINUS_DI = [(0, 15.0), (1.4, 12.9), (2.7, 13.9), (3.9, 16.0), (5.2, 22.1), (6.4, 25.2), (8.1, 23.1),
                (9.75, 22.1), (11, 21.1), (12.7, 13.5), (14.3, 16.4), (15.6, 20.1), (17.25, 22.5),
                (18.9, 24.6), (20.2, 22.1), (21.4, 18.0), (23.1, 16.0), (24.75, 12.9), (26.8, 10.2),
                (28.9, 8.8), (30.6, 7.8), (32.25, 8.4), (33.9, 7.8), (35, 6.8), (36, 11.9), (37.25, 16.4),
                (38.9, 16.4), (40.2, 13.9), (42.25, 11.3), (43.9, 11.9), (45.2, 13.9), (46, 18.4),
                (47.25, 15.6), (48.9, 14.3), (50.2, 12.9), (51, 18.0), (52.25, 24.2), (53.9, 22.5),
                (55.6, 19.0), (57.25, 13.9), (59.3, 11.5), (61, 9.8), (62.25, 7.8), (64.3, 6.8),
                (66.4, 6.8), (67.7, 13.9), (69, 14.3), (70.2, 11.9), (71.4, 16.0), (72.25, 18.4),
                (73.5, 16.0), (75.2, 13.5), (76.4, 17.0), (77.7, 19.7), (79, 18.4), (80.6, 20.1),
                (82.25, 19.0), (83.1, 15.6), (84.3, 17.6), (85.6, 18.0), (87.25, 13.9), (88.9, 23.8),
                (90.6, 22.1), (92.25, 19.0), (94.3, 13.9), (96, 18.0), (96.8, 24.2), (98.9, 18.0),
                (100.6, 19.0), (102.25, 21.1), (103.9, 24.2), (105.2, 20.1), (106.4, 27.2), (108.1, 33.4),
                (109.3, 30.3), (110.6, 27.2), (112.25, 21.1), (113.9, 19.0), (115.6, 16.0), (117.6, 18.0),
                (119.3, 16.0), (121, 15.0), (122.25, 11.9), (123.5, 18.0), (124.75, 17.0), (126.4, 17.0),
                (128.1, 18.0), (129.3, 15.6), (130.6, 18.0), (132.25, 20.5), (133.9, 20.1), (135.6, 19.0),
                (137.25, 17.0), (138.9, 14.3), (140.6, 13.5), (141.8, 26.2), (143.1, 27.9), (143.9, 28.7),
                (145.2, 23.8), (146.4, 20.1), (148.1, 21.1), (149.75, 24.2), (151, 22.5), (152.25, 20.5),
                (153.9, 20.5), (155.6, 23.1), (157.25, 30.3), (158.9, 30.3), (160.6, 29.3), (162.25, 26.2),
                (163.5, 19.0), (164.75, 18.0), (166.4, 25.2), (168.1, 20.5), (169.3, 30.3), (170.2, 32.4),
                (171.8, 30.3), (173.5, 25.2), (174.75, 22.1), (176, 16.5)]

# ---------------------------------------------------------------- data frames
candles = pd.DataFrame({"bar": list(range(len(OPEN))), "open": OPEN, "high": HIGH,
                        "low": LOW, "close": CLOSE})
months_df = pd.DataFrame({"bar": MONTH_BARS})
levels_df = pd.DataFrame({"price": LEVELS})
last_df = pd.DataFrame({"price": [LAST_PRICE]})
zones_df = pd.DataFrame({"x1": ZONE_X1, "x2": ZONE_X2, "top": ZONE_TOP, "bot": ZONE_BOT})
tags_df = pd.DataFrame({"price": LEVELS + [LAST_PRICE],
                        "label": [f"{p:.5f}" for p in LEVELS + [LAST_PRICE]],
                        "kind": ["level"] * len(LEVELS) + ["last"]})
hist_df = pd.DataFrame({"bar": list(range(len(MACD_HIST))), "hist": MACD_HIST,
                        "zero": [0.0] * len(MACD_HIST)})


def pairs(p):
    return pd.DataFrame(p, columns=["bar", "v"])


# ---------------------------------------------------------------- scales / encodings
xs = alt.Scale(domain=X_DOMAIN, nice=False, zero=False)
x_plain = alt.X("bar:Q", scale=xs, axis=None)

label_expr = json.dumps(DATE_LABELS) + "[round(datum.value / 8)]"
x_axis = alt.Axis(values=DATE_TICK_BARS, labelExpr=label_expr, tickSize=4, labelAlign="left",
                  labelBaseline="top", labelPadding=1, labelFlush=False, labelOverlap=False,
                  title=None, domain=False, grid=False)
x_bottom = alt.X("bar:Q", scale=xs, axis=x_axis)


def yaxis(values, fmt, flush):
    kw = dict(orient="right", values=values, format=fmt, tickSize=3, labelPadding=2,
              labelAlign="left", title=None, grid=False, domain=False, labelOverlap=False)
    if flush:
        kw["labelFlush"] = True
        kw["labelFlushOffset"] = 0
    else:
        kw["labelFlush"] = False
        kw["labelBaseline"] = "middle"
    return alt.Axis(**kw)


main_axis = yaxis(PRICE_TICKS, ".5f", False)
macd_axis = yaxis([MACD_DOMAIN[0], 0.0, MACD_DOMAIN[1]], ".6f", True)
stoch_axis = yaxis([0, 20, 80, 100], ".2f", True)
adx_axis = yaxis([0, ADX_DOMAIN[1]], ".2f", True)


def ym(f):
    return alt.Y(f + ":Q", scale=alt.Scale(domain=PRICE_DOMAIN, nice=False, zero=False), axis=main_axis)


def ymacd(f):
    return alt.Y(f + ":Q", scale=alt.Scale(domain=MACD_DOMAIN, nice=False, zero=False), axis=macd_axis)


def ystoch(f):
    return alt.Y(f + ":Q", scale=alt.Scale(domain=STOCH_DOMAIN, nice=False, zero=False), axis=stoch_axis)


def yadx(f):
    return alt.Y(f + ":Q", scale=alt.Scale(domain=ADX_DOMAIN, nice=False, zero=False), axis=adx_axis)


def title_layer(text):
    return alt.Chart(pd.DataFrame({"t": [text]})).mark_text(
        align="left", baseline="middle", fontSize=9, font=FONT, color="black"
    ).encode(x=alt.value(4), y=alt.value(9), text="t:N")


def months_layer(xenc):
    return alt.Chart(months_df).mark_rule(color="black", strokeDash=[3, 2], strokeWidth=1).encode(x=xenc)


def line_layer(p, yfn, color, xenc, dash=None, width=1.0):
    kw = dict(color=color, strokeWidth=width, clip=True)
    if dash:
        kw["strokeDash"] = dash
    return alt.Chart(pairs(p)).mark_line(**kw).encode(x=xenc, y=yfn("v"))


# ---------------------------------------------------------------- main panel
zones = alt.Chart(zones_df).mark_rect(color="#afeeee", clip=True).encode(
    x=alt.X("x1:Q", scale=xs, axis=None), x2=alt.X2("x2:Q"), y=ym("top"), y2=alt.Y2("bot:Q"))
levels = alt.Chart(levels_df).mark_rule(color="#1e90ff", strokeWidth=2).encode(y=ym("price"))
last_line = alt.Chart(last_df).mark_rule(color="#778899", strokeWidth=1).encode(y=ym("price"))
wicks = alt.Chart(candles).mark_rule(color="black", strokeWidth=1, clip=True).encode(
    x=x_plain, y=ym("low"), y2=alt.Y2("high:Q"))
bodies = alt.Chart(candles).mark_bar(width=4.5, stroke="black", strokeWidth=1, clip=True).encode(
    x=x_plain, y=ym("open"), y2=alt.Y2("close:Q"),
    color=alt.condition("datum.close >= datum.open", alt.value("#0000ff"), alt.value("#ff0000")))
BOX = "M-1,-0.26L1,-0.26L1,0.26L-1,0.26Z"
tag_box = alt.Chart(tags_df).mark_point(shape=BOX, filled=True, size=1521, opacity=1, strokeWidth=0).encode(
    x=alt.value(W + 22.5), y=ym("price"),
    color=alt.Color("kind:N", scale=alt.Scale(domain=["level", "last"], range=["#1e90ff", "#778899"]),
                    legend=None))
tag_text = alt.Chart(tags_df).mark_text(align="left", baseline="middle", fontSize=9, font=FONT,
                                        color="white").encode(
    x=alt.value(W + 5), y=ym("price"), text="label:N")

main = alt.layer(
    zones, months_layer(x_plain), levels, last_line,
    line_layer(MA_BLUE, ym, "#0000ff", x_plain),
    line_layer(MA_BLACK, ym, "#000000", x_plain),
    line_layer(MA_RED, ym, "#ff0000", x_plain),
    wicks, bodies, tag_box, tag_text, title_layer(TITLE_MAIN),
).properties(width=W, height=H_MAIN)

# ---------------------------------------------------------------- MACD panel
hist = alt.Chart(hist_df).mark_rule(color="#c0c0c0", strokeWidth=1.3).encode(
    x=x_plain, y=ymacd("hist"), y2=alt.Y2("zero:Q"))
macd = alt.layer(
    months_layer(x_plain), hist,
    line_layer(MACD_SIGNAL, ymacd, "#ff0000", x_plain, dash=[2, 2]),
    title_layer(TITLE_MACD),
).properties(width=W, height=H_MACD)

# ---------------------------------------------------------------- Stochastic panel
stoch_lv = alt.Chart(pd.DataFrame({"lvl": STOCH_LEVELS})).mark_rule(
    color="#c0c0c0", strokeDash=[4, 3], strokeWidth=1).encode(y=ystoch("lvl"))
stoch = alt.layer(
    months_layer(x_plain), stoch_lv,
    line_layer(STOCH_MAIN, ystoch, "#20b2aa", x_plain),
    line_layer(STOCH_SIGNAL, ystoch, "#ff0000", x_plain, dash=[2, 2]),
    title_layer(TITLE_STOCH),
).properties(width=W, height=H_STOCH)

# ---------------------------------------------------------------- ADX panel
adx = alt.layer(
    months_layer(x_bottom),
    line_layer(ADX_MINUS_DI, yadx, "#f5deb3", x_bottom, dash=[2, 2]),
    line_layer(ADX_PLUS_DI, yadx, "#9acd32", x_bottom, dash=[3, 2]),
    line_layer(ADX_MAIN, yadx, "#20b2aa", x_bottom),
    title_layer(TITLE_ADX),
).properties(width=W, height=H_ADX)

chart = alt.vconcat(main, macd, stoch, adx, spacing=2, bounds="flush").properties(
    padding=0, background="white"
).configure_view(stroke="black", strokeWidth=1).configure_axis(
    labelFont=FONT, labelFontSize=9, labelColor="black", tickColor="black", tickWidth=1,
    domain=False, grid=False)

chart.save("out.html", embed_options={"renderer": "svg", "actions": False})
